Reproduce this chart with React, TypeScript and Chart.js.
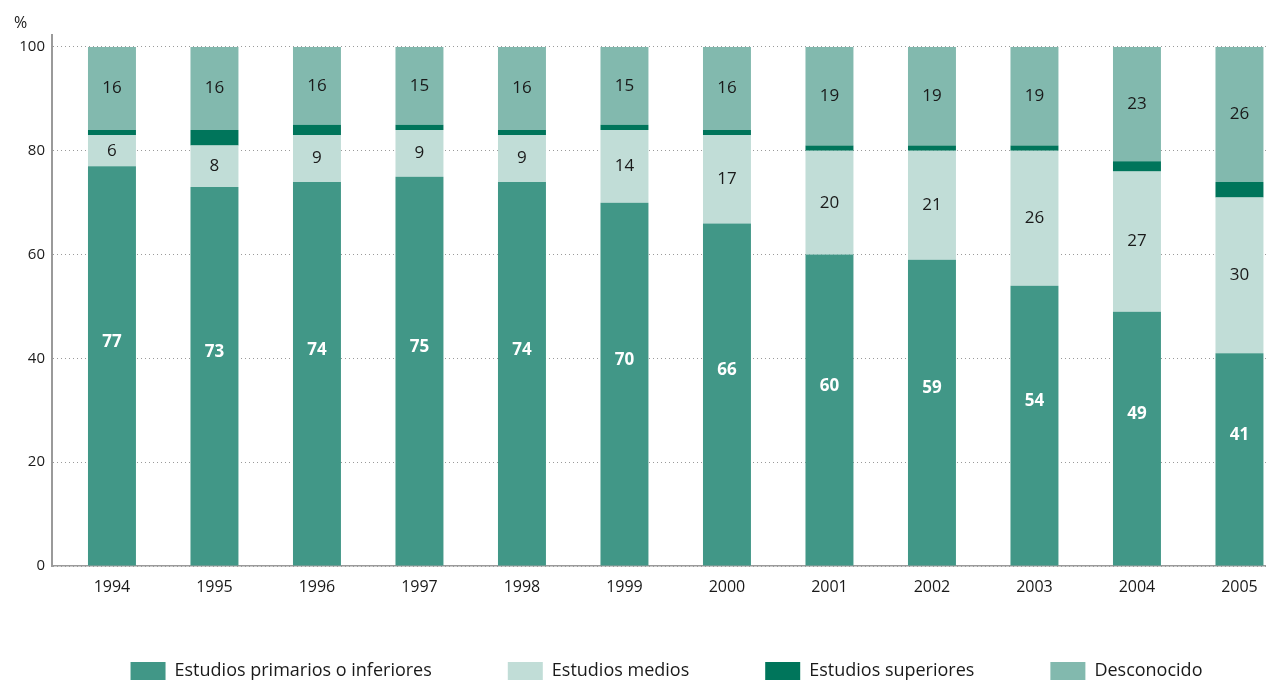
import React, { useEffect, useRef } from "react";
import { Chart, registerables } from "chart.js";

Chart.register(...registerables);

const years = ["1994", "1995", "1996", "1997", "1998", "1999", "2000", "2001", "2002", "2003", "2004", "2005"];
const primary = [77, 73, 74, 75, 74, 70, 66, 60, 59, 54, 49, 41];
const medium = [6, 8, 9, 9, 9, 14, 17, 20, 21, 26, 27, 30];
const superior = [1, 3, 2, 1, 1, 1, 1, 1, 1, 1, 2, 3];
const unknown = [16, 16, 16, 15, 16, 15, 16, 19, 19, 19, 23, 26];
const seriesNames = ["Estudios primarios o inferiores", "Estudios medios", "Estudios superiores", "Desconocido"];
const seriesColors = ["#419787", "#c1ddd7", "#00755b", "#82b9ae"];
const yTickValues = [0, 20, 40, 60, 80, 100];

const FONT = "'Open Sans', 'Noto Sans', sans-serif";
const TEXT = "#1a1a1a";

// label style per dataset index (null = no label)
const labelStyles: any[] = [
  { color: "#ffffff", weight: "bold", dy: -24 },
  { color: TEXT, weight: "normal", dy: 0 },
  null,
  { color: TEXT, weight: "normal", dy: 0 },
];

const segLabels = {
  id: "segLabels",
  afterDatasetsDraw(chart: any) {
    const ctx = chart.ctx;
    const topPx = chart.scales.y.getPixelForValue(yTickValues[yTickValues.length - 1]);
    chart.data.datasets.forEach((ds: any, di: number) => {
      const st = labelStyles[di];
      if (!st) return;
      const meta = chart.getDatasetMeta(di);
      meta.data.forEach((el: any, i: number) => {
        const v = ds.data[i];
        const p = el.getProps(["x", "y", "base"], true);
        const top = Math.max(p.y, topPx);
        ctx.save();
        ctx.font = `${st.weight} 17px ${FONT}`;
        ctx.fillStyle = st.color;
        ctx.textAlign = "center";
        ctx.textBaseline = "middle";
        ctx.fillText(String(v), p.x, (top + p.base) / 2 + st.dy);
        ctx.restore();
      });
    });
  },
};

// place the legend row where the original has it
const legendPlace = {
  id: "legendPlace",
  afterLayout(chart: any) {
    const lg = chart.legend;
    if (!lg) return;
    const dx = 666.5 - (lg.left + lg.right) / 2;
    lg.left += dx;
    lg.right += dx;
    const dy = 662 - (lg.top + lg.options.labels.padding);
    lg.top += dy;
    lg.bottom += dy;
  },
};

export default function App() {
  const ref = useRef<HTMLCanvasElement>(null);
  useEffect(() => {
    if (!ref.current) return;
    const seriesData = [primary, medium, superior, unknown];
    const first = Number(years[0]);
    const chart = new Chart(ref.current, {
      type: "bar",
      data: {
        labels: years,
        datasets: seriesData.map((d, i) => ({
          label: seriesNames[i],
          data: d,
          backgroundColor: seriesColors[i],
          borderWidth: 0,
          categoryPercentage: 1,
          barPercentage: 0.468,
          clip: { left: 0, right: 0, top: -12, bottom: 0 } as any,
        })),
      },
      options: {
        responsive: false,
        animation: false,
        devicePixelRatio: 1,
        layout: { padding: { left: 0, top: 35, right: 0, bottom: 0 } },
        plugins: {
          tooltip: { enabled: false },
          legend: {
            position: "bottom",
            labels: {
              boxWidth: 35,
              boxHeight: 18,
              padding: 76,
              color: TEXT,
              font: { family: FONT, size: 18 },
            },
          },
        },
        scales: {
          x: {
            type: "linear",
            offset: false,
            stacked: true,
            min: first - 0.585,
            max: first + 11.415,
            grid: { display: false, drawTicks: false, offset: false },
            border: { display: true, color: "#9a9a9a", width: 1.5 },
            ticks: {
              color: TEXT,
              font: { family: FONT, size: 16 },
              padding: 12,
              maxRotation: 0,
              autoSkip: false,
              callback: (v: any) => String(v),
            },
            afterBuildTicks: (s: any) => {
              s.ticks = years.map((y) => ({ value: Number(y) }));
            },
            afterFit: (s: any) => {
              s.height = 36;
            },
          },
          y: {
            stacked: true,
            min: 0,
            max: 102.3,
            grid: { color: "#9a9a9a", lineWidth: 1, drawTicks: false },
            border: { display: true, color: "#9a9a9a", width: 2, dash: [1, 3] },
            ticks: { color: TEXT, font: { family: FONT, size: 15 }, padding: 7 },
            afterBuildTicks: (s: any) => {
              s.ticks = yTickValues.map((v) => ({ value: v }));
            },
            afterFit: (s: any) => {
              s.width = 52;
            },
          },
        },
      },
      plugins: [segLabels, legendPlace],
    });
    return () => chart.destroy();
  }, []);
  return (
    <div style={{ position: "fixed", left: 0, top: 0, width: 1266, height: 680, overflow: "hidden", background: "#fff" }}>
      <canvas ref={ref} width={1282} height={706} style={{ position: "absolute", left: 0, top: 0 }} />
      <span style={{ position: "absolute", left: 14, top: 11, font: `16px ${FONT}`, color: TEXT }}>%</span>
    </div>
  );
}
